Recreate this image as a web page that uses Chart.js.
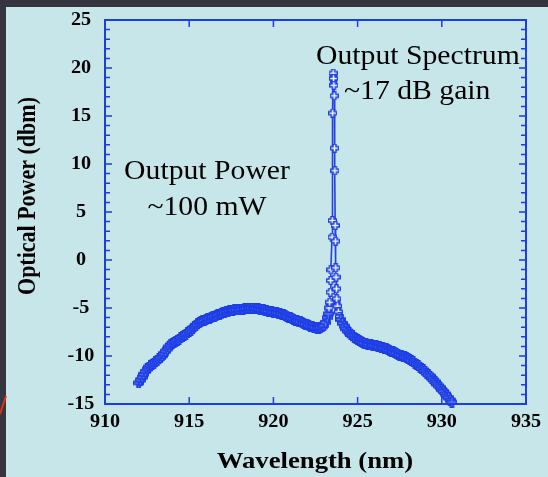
<!DOCTYPE html>
<html>
<head>
<meta charset="utf-8">
<script src="https://cdn.jsdelivr.net/npm/chart.js@4"></script>
<style>
  html, body { margin: 0; padding: 0; background: #35353f; }
  canvas { display: block; }
</style>
</head>
<body>
<canvas id="spectrum" width="548" height="477"></canvas>
<script>
// broad ASE shoulder left of the signal line
const wavelengthLeft = [912.0, 912.1, 912.2, 912.3, 912.4, 912.5, 912.6, 912.7, 912.8, 912.9,
  913.0, 913.1, 913.2, 913.3, 913.4, 913.5, 913.6, 913.7, 913.8, 913.9,
  914.0, 914.1, 914.2, 914.3, 914.4, 914.5, 914.6, 914.7, 914.8, 914.9,
  915.0, 915.1, 915.2, 915.3, 915.4, 915.5, 915.6, 915.7, 915.8, 915.9,
  916.0, 916.1, 916.2, 916.3, 916.4, 916.5, 916.6, 916.7, 916.8, 916.9,
  917.0, 917.1, 917.2, 917.3, 917.4, 917.5, 917.6, 917.7, 917.8, 917.9,
  918.0, 918.1, 918.2, 918.3, 918.4, 918.5, 918.6, 918.7, 918.8, 918.9,
  919.0, 919.1, 919.2, 919.3, 919.4, 919.5, 919.6, 919.7, 919.8, 919.9,
  920.0, 920.1, 920.2, 920.3, 920.4, 920.5, 920.6, 920.7, 920.8, 920.9,
  921.0, 921.1, 921.2, 921.3, 921.4, 921.5, 921.6, 921.7, 921.8, 921.9,
  922.0, 922.1, 922.2, 922.3, 922.4, 922.5, 922.6, 922.7, 922.8, 922.9,
  923.0, 923.1, 923.2, 923.26];
const powerLeft = [-12.8, -12.5, -12.2, -11.9, -11.6, -11.35, -11.15, -11.0, -10.9, -10.75,
  -10.6, -10.45, -10.3, -10.15, -9.95, -9.75, -9.5, -9.25, -9.05, -8.85,
  -8.65, -8.55, -8.45, -8.35, -8.25, -8.1, -8.0, -7.85, -7.75, -7.6,
  -7.45, -7.3, -7.1, -6.95, -6.8, -6.65, -6.5, -6.4, -6.35, -6.3,
  -6.2, -6.1, -6.05, -5.95, -5.9, -5.85, -5.8, -5.7, -5.65, -5.55,
  -5.5, -5.45, -5.4, -5.35, -5.3, -5.3, -5.25, -5.2, -5.2, -5.2,
  -5.2, -5.15, -5.15, -5.1, -5.05, -5.0, -5.0, -5.0, -5.05, -5.05,
  -5.05, -5.1, -5.15, -5.2, -5.2, -5.25, -5.3, -5.35, -5.4, -5.4,
  -5.45, -5.5, -5.5, -5.55, -5.6, -5.65, -5.7, -5.8, -5.85, -5.95,
  -6.0, -6.1, -6.15, -6.25, -6.3, -6.4, -6.45, -6.55, -6.6, -6.7,
  -6.75, -6.85, -6.9, -6.95, -7.0, -7.05, -7.1, -7.1, -7.05, -6.95,
  -6.8, -6.5, -6.0, -5.6];

// the amplified signal line
const wavelengthPeak = [923.3, 923.34, 923.38, 923.4, 923.42, 923.48, 923.5, 923.52, 923.55, 923.57,
  923.59, 923.61, 923.63, 923.65, 923.67, 923.69, 923.7, 923.72, 923.74, 923.76,
  923.8, 923.86, 923.94];
const powerPeak = [-5.0, -4.4, -3.35, -2.14, -1.02, 2.38, 4.11, 15.3, 19.46, 18.9,
  18.2, 17.1, 11.65, 9.3, 3.6, 1.96, -0.81, -1.79, -3.0, -4.04,
  -4.8, -5.4, -5.9];

// tail right of the signal line
const wavelengthRight = [924.0, 924.1, 924.2, 924.3, 924.4, 924.5, 924.6, 924.7, 924.8, 924.9,
  925.0, 925.1, 925.2, 925.3, 925.4, 925.5, 925.6, 925.7, 925.8, 925.9,
  926.0, 926.1, 926.2, 926.3, 926.4, 926.5, 926.6, 926.7, 926.8, 926.9,
  927.0, 927.1, 927.2, 927.3, 927.4, 927.5, 927.6, 927.7, 927.8, 927.9,
  928.0, 928.1, 928.2, 928.3, 928.4, 928.5, 928.6, 928.7, 928.8, 928.9,
  929.0, 929.1, 929.2, 929.3, 929.4, 929.5, 929.6, 929.7, 929.8, 929.9,
  930.0, 930.1, 930.2, 930.3, 930.4, 930.5, 930.6];
const powerRight = [-6.2, -6.6, -6.9, -7.15, -7.4, -7.6, -7.75, -7.9, -8.05, -8.2,
  -8.3, -8.4, -8.5, -8.6, -8.65, -8.7, -8.75, -8.8, -8.85, -8.9,
  -8.95, -8.95, -9.0, -9.05, -9.1, -9.15, -9.2, -9.25, -9.35, -9.4,
  -9.5, -9.55, -9.65, -9.7, -9.8, -9.9, -9.95, -10.05, -10.1, -10.2,
  -10.3, -10.4, -10.5, -10.6, -10.75, -10.85, -11.0, -11.15, -11.3, -11.45,
  -11.6, -11.8, -11.95, -12.1, -12.3, -12.5, -12.7, -12.9, -13.1, -13.3,
  -13.5, -13.7, -13.95, -14.15, -14.35, -14.6, -14.8];

const xTicks = [910, 915, 920, 925, 930, 935];
const yTicks = [-15, -10, -5, 0, 5, 10, 15, 20, 25];

const blue = '#1c3ce6';
const bandBlue = '#2443dc';
const serif = '"Liberation Serif", "DejaVu Serif", serif';

const wavelengths = wavelengthLeft.concat(wavelengthPeak, wavelengthRight);
const powers = powerLeft.concat(powerPeak, powerRight);
const points = wavelengths.map((w, i) => ({ x: w, y: powers[i] }));

// hollow "+" marker like the original plot symbol
function makeCross(size, arm, width, fill) {
  const c = document.createElement('canvas');
  c.width = size;
  c.height = size;
  const g = c.getContext('2d');
  const lo = (size - arm) / 2, hi = lo + arm, e = size - 0.5;
  g.beginPath();
  g.moveTo(lo, 0.5); g.lineTo(hi, 0.5); g.lineTo(hi, lo); g.lineTo(e, lo);
  g.lineTo(e, hi); g.lineTo(hi, hi); g.lineTo(hi, e); g.lineTo(lo, e);
  g.lineTo(lo, hi); g.lineTo(0.5, hi); g.lineTo(0.5, lo); g.lineTo(lo, lo);
  g.closePath();
  g.fillStyle = fill;
  g.fill();
  g.strokeStyle = blue;
  g.lineWidth = width;
  g.stroke();
  return c;
}
const bigCross = makeCross(11, 3, 1.7, '#5f7bea');
const smallCross = makeCross(9, 3, 1.4, '#f4f8ff');
const peakStart = wavelengthLeft.length;
const peakEnd = peakStart + wavelengthPeak.length;

function stretchedText(ctx, text, x, y, sx) {
  ctx.save();
  ctx.translate(x, y);
  ctx.scale(sx, 1);
  ctx.fillText(text, 0, 0);
  ctx.restore();
}

const frame = {
  id: 'frame',
  beforeDraw(chart) {
    const ctx = chart.ctx;
    ctx.save();
    ctx.fillStyle = '#35353f';
    ctx.fillRect(0, 0, chart.width, chart.height);
    ctx.fillStyle = '#c7e6e9';
    ctx.fillRect(6, 7, chart.width - 6, chart.height - 7);
    ctx.strokeStyle = '#e0301c';
    ctx.lineWidth = 2;
    ctx.beginPath();
    ctx.moveTo(0, 414);
    ctx.lineTo(6, 396);
    ctx.stroke();
    ctx.restore();
  },
  afterDatasetsDraw(chart) {
    const ctx = chart.ctx;
    const a = chart.chartArea;
    const xs = chart.scales.x;
    const ys = chart.scales.y;
    ctx.save();
    ctx.strokeStyle = blue;
    ctx.lineWidth = 2;
    ctx.strokeRect(a.left, a.top, a.right - a.left, a.bottom - a.top);
    ctx.lineWidth = 1.5;
    ctx.beginPath();
    xTicks.forEach(v => {
      const px = xs.getPixelForValue(v);
      ctx.moveTo(px, a.bottom); ctx.lineTo(px, a.bottom - 7);
      ctx.moveTo(px, a.top); ctx.lineTo(px, a.top + 7);
    });
    for (let v = yTicks[0]; v <= yTicks[yTicks.length - 1]; v++) {
      const py = ys.getPixelForValue(v);
      const len = v % 5 === 0 ? 7 : 5;
      ctx.moveTo(a.left, py); ctx.lineTo(a.left + len, py);
      ctx.moveTo(a.right, py); ctx.lineTo(a.right - len, py);
    }
    ctx.stroke();
    ctx.restore();
  },
  afterDraw(chart) {
    const ctx = chart.ctx;
    const a = chart.chartArea;
    const xs = chart.scales.x;
    const ys = chart.scales.y;
    ctx.save();
    ctx.fillStyle = '#000';
    ctx.textAlign = 'center';
    ctx.textBaseline = 'middle';
    ctx.font = 'bold 18px ' + serif;
    xTicks.forEach(v => stretchedText(ctx, String(v), xs.getPixelForValue(v), a.bottom + 18, 1.12));
    yTicks.forEach(v => stretchedText(ctx, String(v), 81, ys.getPixelForValue(v), 1.12));

    ctx.textBaseline = 'alphabetic';
    ctx.font = 'bold 23px ' + serif;
    stretchedText(ctx, 'Wavelength (nm)', 315, 468, 1.16);

    ctx.save();
    ctx.translate(35, 196);
    ctx.rotate(-Math.PI / 2);
    ctx.scale(1, 1.1);
    ctx.font = 'bold 22px ' + serif;
    ctx.fillText('Optical Power (dbm)', 0, 0);
    ctx.restore();

    ctx.font = '27px ' + serif;
    ctx.textAlign = 'left';
    stretchedText(ctx, 'Output Spectrum', 316, 64, 1.1);
    stretchedText(ctx, '~17 dB gain', 344, 99, 1.1);
    ctx.textAlign = 'center';
    stretchedText(ctx, 'Output Power', 207, 179, 1.1);
    stretchedText(ctx, '~100 mW', 207, 215, 1.1);
    ctx.restore();
  }
};

new Chart(document.getElementById('spectrum'), {
  type: 'scatter',
  data: {
    datasets: [{
      data: points,
      showLine: true,
      borderColor: bandBlue,
      borderWidth: 2,
      segment: {
        // thick trace along the densely sampled shoulder, thin on the steep line
        borderWidth: c => Math.abs(c.p1.parsed.y - c.p0.parsed.y) > 0.8 ? 1.6 : 7
      },
      pointStyle: c => (c.dataIndex >= peakStart && c.dataIndex < peakEnd) ? smallCross : bigCross,
      clip: false
    }]
  },
  options: {
    responsive: false,
    devicePixelRatio: 1,
    animation: false,
    layout: { padding: { left: 105, right: 22, top: 20, bottom: 73 } },
    plugins: { legend: { display: false }, tooltip: { enabled: false } },
    scales: {
      x: { type: 'linear', min: xTicks[0], max: xTicks[xTicks.length - 1], display: false },
      y: { type: 'linear', min: yTicks[0], max: yTicks[yTicks.length - 1], display: false }
    }
  },
  plugins: [frame]
});
</script>
</body>
</html>
